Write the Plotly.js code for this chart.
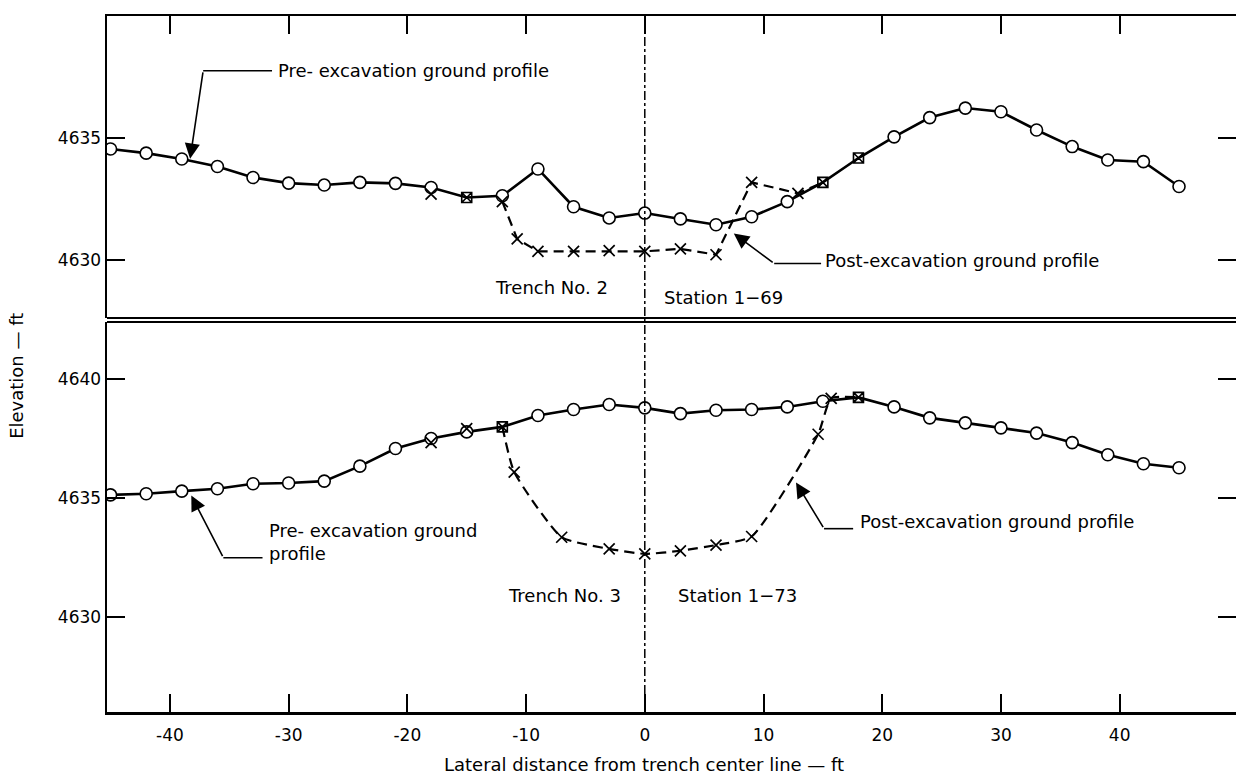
<!DOCTYPE html>
<html>
<head>
<meta charset="utf-8">
<script src="https://cdn.plot.ly/plotly-3.0.1.min.js"></script>
<style>html,body{margin:0;padding:0;background:#fff;}#chart{width:1236px;height:775px;}</style>
</head>
<body>
<div id="chart"></div>
<script>
// ---- Data ----
const xPre = [-45,-42,-39,-36,-33,-30,-27,-24,-21,-18,-15,-12,-9,-6,-3,0,3,6,9,12,15,18,21,24,27,30,33,36,39,42,45];

// Trench No. 2, Station 1-69 (top panel)
const t2Pre = [4634.54,4634.37,4634.13,4633.82,4633.37,4633.14,4633.06,4633.17,4633.13,4632.96,4632.55,4632.62,4633.72,4632.17,4631.71,4631.91,4631.67,4631.43,4631.76,4632.38,4633.17,4634.17,4635.04,4635.83,4636.22,4636.07,4635.32,4634.64,4634.09,4634.02,4633.0];
const t2PostX = [-12,-10.75,-9,-6,-3,0,3,6,9,12.9,15];
const t2Post = [4632.38,4630.85,4630.34,4630.34,4630.37,4630.34,4630.44,4630.2,4633.17,4632.72,4633.17];
const t2OnLineX = [-18];
const t2OnLine = [4632.69];

// Trench No. 3, Station 1-73 (bottom panel)
const t3Pre = [4635.13,4635.18,4635.29,4635.39,4635.6,4635.63,4635.71,4636.34,4637.08,4637.5,4637.78,4637.99,4638.47,4638.72,4638.93,4638.79,4638.55,4638.69,4638.72,4638.83,4639.07,4639.23,4638.83,4638.37,4638.16,4637.95,4637.73,4637.33,4636.82,4636.44,4636.27];
const t3PostX = [-12,-11,-7,-3,0,3,6,9,14.6,15.7,18];
const t3Post = [4637.99,4636.09,4633.35,4632.86,4632.65,4632.78,4633.02,4633.38,4637.68,4639.19,4639.23];
const t3OnLineX = [-18,-15];
const t3OnLine = [4637.33,4637.92];

const xTicks = [-40,-30,-20,-10,0,10,20,30,40];
const yTicksTop = [4630,4635];
const yTicksBottom = [4630,4635,4640];

// stations where pre- and post-excavation points coincide (drawn as boxed X)
const t2Boxed = [-15,15,18];
const t3Boxed = [-12,18];

const FONT = 'DejaVu Sans';
function circleX(boxed){ return xPre.filter(v => !boxed.includes(v)); }
function circleY(boxed, ys){ return ys.filter((_, i) => !boxed.includes(xPre[i])); }
function boxY(boxed, ys){ return boxed.map(v => ys[xPre.indexOf(v)]); }

const preLine = {color:'#000', width:2.6};
const postLine = {color:'#000', width:2.2, dash:'10px,6px'};
const xMarker = {symbol:'x-thin', size:11, color:'#000', line:{color:'#000', width:1.7}};
const circMarker = {symbol:'circle', size:12, color:'#ffffff', line:{color:'#000', width:1.6}};
const boxMarker = {symbol:'square-x-open', size:10, color:'#000', line:{width:1.6}};

function panel(xa, ya, pre, postX, post, onX, on, boxed, spline){
  const pl = Object.assign({}, postLine, spline ? {shape:'spline', smoothing:0.5} : {});
  return [
    {x:xPre, y:pre, xaxis:xa, yaxis:ya, mode:'lines', line:preLine, hoverinfo:'skip'},
    {x:postX, y:post, xaxis:xa, yaxis:ya, mode:'lines', line:pl, hoverinfo:'skip'},
    {x:circleX(boxed), y:circleY(boxed, pre), xaxis:xa, yaxis:ya, mode:'markers', marker:circMarker, hoverinfo:'skip'},
    {x:boxed, y:boxY(boxed, pre), xaxis:xa, yaxis:ya, mode:'markers', marker:boxMarker, hoverinfo:'skip'},
    {x:postX.filter(v => !boxed.includes(v)), y:post.filter((_, i) => !boxed.includes(postX[i])), xaxis:xa, yaxis:ya, mode:'markers', marker:xMarker, hoverinfo:'skip'},
    {x:onX, y:on, xaxis:xa, yaxis:ya, mode:'markers', marker:xMarker, hoverinfo:'skip'}
  ];
}

const traces = [].concat(
  panel('x', 'y', t3Pre, t3PostX, t3Post, t3OnLineX, t3OnLine, t3Boxed, true),
  panel('x2', 'y2', t2Pre, t2PostX, t2Post, t2OnLineX, t2OnLine, t2Boxed, false)
);

const tickFont = {family:FONT, size:17, color:'#000'};
const txtFont = {family:FONT, size:18, color:'#000'};

const xr = [-45.3, 49.8];
const arrowCommon = {text:'', showarrow:true, arrowhead:2, arrowsize:1.9, arrowwidth:1.6, arrowcolor:'#000'};
const layout = {
  width:1236, height:775,
  margin:{l:107, r:0, t:16, b:63},
  paper_bgcolor:'#fff', plot_bgcolor:'#fff',
  showlegend:false,
  xaxis:{domain:[0,1], anchor:'y', range:xr, tickvals:xTicks, ticktext:xTicks.map(String),
    ticks:'inside', ticklen:18, tickwidth:2, tickcolor:'#000', showline:true, linecolor:'#000', linewidth:2.5,
    showgrid:false, zeroline:false, tickfont:tickFont, ticklabelstandoff:6},
  xaxis2:{domain:[0,1], anchor:'y2', side:'top', matches:'x', range:xr, tickvals:xTicks,
    ticks:'inside', ticklen:18, tickwidth:2, tickcolor:'#000', showline:true, linecolor:'#000', linewidth:2.5,
    showticklabels:false, showgrid:false, zeroline:false},
  yaxis:{domain:[0,0.5603], anchor:'x', range:[4626.0,4642.4], tickvals:yTicksBottom, ticktext:yTicksBottom.map(String),
    ticks:'inside', ticklen:18, tickwidth:2, tickcolor:'#000', showline:true, linecolor:'#000', linewidth:2.5, mirror:'ticks',
    showgrid:false, zeroline:false, tickfont:tickFont},
  yaxis2:{domain:[0.566,1], anchor:'x2', range:[4627.6,4640.0], tickvals:yTicksTop, ticktext:yTicksTop.map(String),
    ticks:'inside', ticklen:18, tickwidth:2, tickcolor:'#000', showline:true, linecolor:'#000', linewidth:2.5, mirror:'ticks',
    showgrid:false, zeroline:false, tickfont:tickFont},
  shapes:[
    {type:'line', xref:'paper', yref:'paper', x0:0, x1:1, y0:0.566, y1:0.566, line:{color:'#000', width:2}},
    {type:'line', xref:'paper', yref:'paper', x0:0, x1:1, y0:0.5603, y1:0.5603, line:{color:'#000', width:2}},
    {type:'line', xref:'x', yref:'paper', x0:0, x1:0, y0:0, y1:1, line:{color:'#000', width:1.5, dash:'dashdot'}},
    {type:'line', xref:'x2', yref:'y2', x0:-37.2, x1:-31.4, y0:4637.75, y1:4637.75, line:{color:'#000', width:1.6}},
    {type:'line', xref:'x2', yref:'y2', x0:10.9, x1:14.85, y0:4629.84, y1:4629.84, line:{color:'#000', width:1.6}},
    {type:'line', xref:'x', yref:'y', x0:-35.5, x1:-32.2, y0:4632.49, y1:4632.49, line:{color:'#000', width:1.6}},
    {type:'line', xref:'x', yref:'y', x0:15.1, x1:17.55, y0:4633.71, y1:4633.71, line:{color:'#000', width:1.6}}
  ],
  annotations:[
    {xref:'x2', yref:'y2', x:-31.1, y:4637.75, text:'Pre- excavation ground profile', showarrow:false, xanchor:'left', yanchor:'middle', font:txtFont},
    {xref:'x2', yref:'y2', x:15.0, y:4629.96, text:'Post-excavation ground profile', showarrow:false, xanchor:'left', yanchor:'middle', font:txtFont},
    {xref:'x2', yref:'y2', x:-7.9, y:4628.85, text:'Trench No. 2', showarrow:false, xanchor:'center', yanchor:'middle', font:txtFont},
    {xref:'x2', yref:'y2', x:6.6, y:4628.44, text:'Station 1\u221269', showarrow:false, xanchor:'center', yanchor:'middle', font:txtFont},
    Object.assign({xref:'x2', yref:'y2', axref:'x2', ayref:'y2', x:-38.3, y:4634.14, ax:-37.2, ay:4637.75}, arrowCommon),
    Object.assign({xref:'x2', yref:'y2', axref:'x2', ayref:'y2', x:7.5, y:4631.07, ax:10.9, ay:4629.84}, arrowCommon),
    {xref:'x', yref:'y', x:-31.8, y:4633.14, text:'Pre- excavation ground<br>profile', showarrow:false, xanchor:'left', yanchor:'middle', align:'left', font:txtFont},
    {xref:'x', yref:'y', x:18.0, y:4634.0, text:'Post-excavation ground profile', showarrow:false, xanchor:'left', yanchor:'middle', font:txtFont},
    {xref:'x', yref:'y', x:-6.8, y:4630.89, text:'Trench No. 3', showarrow:false, xanchor:'center', yanchor:'middle', font:txtFont},
    {xref:'x', yref:'y', x:7.8, y:4630.89, text:'Station 1\u221273', showarrow:false, xanchor:'center', yanchor:'middle', font:txtFont},
    Object.assign({xref:'x', yref:'y', axref:'x', ayref:'y', x:-38.2, y:4635.1, ax:-35.5, ay:4632.49}, arrowCommon),
    Object.assign({xref:'x', yref:'y', axref:'x', ayref:'y', x:12.74, y:4635.65, ax:15.1, ay:4633.71}, arrowCommon),
    {xref:'paper', yref:'paper', x:-0.0797, y:0.483, text:'Elevation \u2014 ft', textangle:-90, showarrow:false, xanchor:'center', yanchor:'middle', font:txtFont},
    {xref:'paper', yref:'paper', x:0.476, y:-0.075, text:'Lateral distance from trench center line \u2014 ft', showarrow:false, xanchor:'center', yanchor:'middle', font:txtFont}
  ]
};

Plotly.newPlot('chart', traces, layout, {staticPlot:true, displayModeBar:false});
</script>
</body>
</html>
